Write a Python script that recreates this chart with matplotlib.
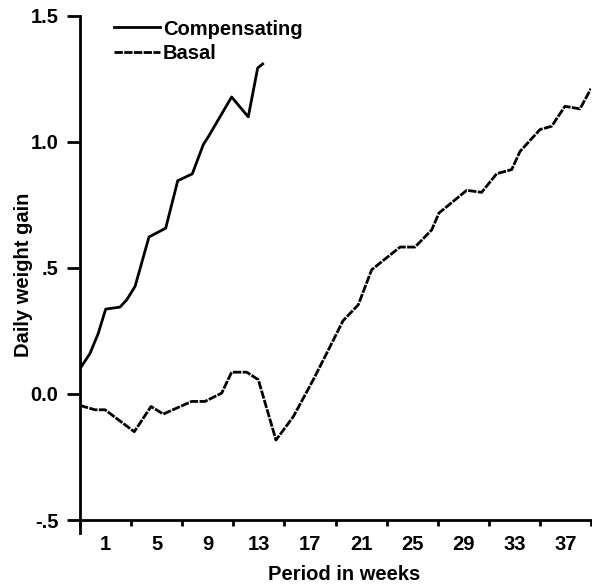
import numpy as np
import matplotlib
matplotlib.use("Agg")
import matplotlib.pyplot as plt

plt.rcParams['font.family'] = ['Liberation Sans', 'DejaVu Sans']
plt.rcParams['font.weight'] = 'bold'
plt.rcParams['axes.labelweight'] = 'bold'

# values (x in weeks, y = daily weight gain)
comp_weeks = [-1.0, -0.22, 0.43, 1.01, 2.13, 2.66, 3.31, 3.75, 4.40, 5.71,
              6.65, 7.79, 8.65, 9.04, 10.87, 12.17, 12.91, 13.30]
comp_gain = [0.10, 0.16, 0.24, 0.336, 0.344, 0.373, 0.426, 0.505, 0.622, 0.657,
             0.845, 0.872, 0.988, 1.019, 1.177, 1.098, 1.292, 1.308]

basal_weeks = [-1.0, 0.17, 0.96, 3.25, 4.56, 5.52, 7.74, 8.78, 10.09, 10.87,
               12.05, 12.96, 14.34, 15.70, 17.26, 18.70, 19.59, 20.78, 21.83,
               24.05, 25.22, 26.53, 27.10, 29.27, 30.44, 31.62, 32.79, 33.44,
               35.01, 35.92, 36.96, 38.14, 39.0]
basal_gain = [-0.046, -0.063, -0.063, -0.15, -0.05, -0.08, -0.03, -0.03, 0.003,
              0.086, 0.086, 0.056, -0.183, -0.09, 0.056, 0.20, 0.29, 0.353,
              0.492, 0.582, 0.582, 0.65, 0.717, 0.807, 0.799, 0.873, 0.889,
              0.961, 1.048, 1.061, 1.14, 1.13, 1.21]

x_labels = ["1", "5", "9", "13", "17", "21", "25", "29", "33", "37"]
y_ticks = [-0.5, 0.0, 0.5, 1.0, 1.5]
y_labels = ["-.5", "0.0", ".5", "1.0", "1.5"]

fig = plt.figure(figsize=(5.92, 5.86), dpi=100)
ax = fig.add_axes([80 / 592, 1 - 520 / 586, 511 / 592, (520 - 15.5) / 586])

ax.plot(comp_weeks, comp_gain, color='black', lw=2.0, label='Compensating',
        solid_joinstyle='round')
ax.plot(basal_weeks, basal_gain, color='black', lw=2.0,
        linestyle=(0, (3, 0.5)), label='Basal')

ax.set_xlim(-1, 39)
ax.set_ylim(-0.5, 1.5)

# ticks at group borders, labels centred between them
ax.set_xticks(np.arange(-1, 40, 4))
ax.set_xticklabels([])
ax.set_xticks(np.arange(1, 38, 4), minor=True)
ax.set_xticklabels(x_labels, minor=True)
ax.tick_params(axis='x', which='major', direction='out', length=4.5, width=2)
ax.tick_params(axis='x', which='minor', length=0, pad=11, labelsize=14.5)

ax.set_yticks(y_ticks)
ax.set_yticklabels(y_labels)
ax.tick_params(axis='y', direction='out', length=9.5, width=2, pad=6,
               labelsize=14.5)

for s in ['top', 'right']:
    ax.spines[s].set_visible(False)
for s in ['left', 'bottom']:
    ax.spines[s].set_linewidth(2)
ax.spines['left'].set_bounds(-0.552, 1.5)

ax.set_xlabel('Period in weeks', fontsize=14.5)
ax.set_ylabel('Daily weight gain', fontsize=14.5)
ax.xaxis.set_label_coords(0.517, -0.089)
ax.yaxis.set_label_coords(-0.092, 0.486)

ax.legend(loc='upper left', bbox_to_anchor=(0.05, 1.008), frameon=False,
          fontsize=14.5, handlelength=2.3, handletextpad=0.15,
          labelspacing=0.25, borderaxespad=0)

fig.savefig('out.png', dpi=100)
